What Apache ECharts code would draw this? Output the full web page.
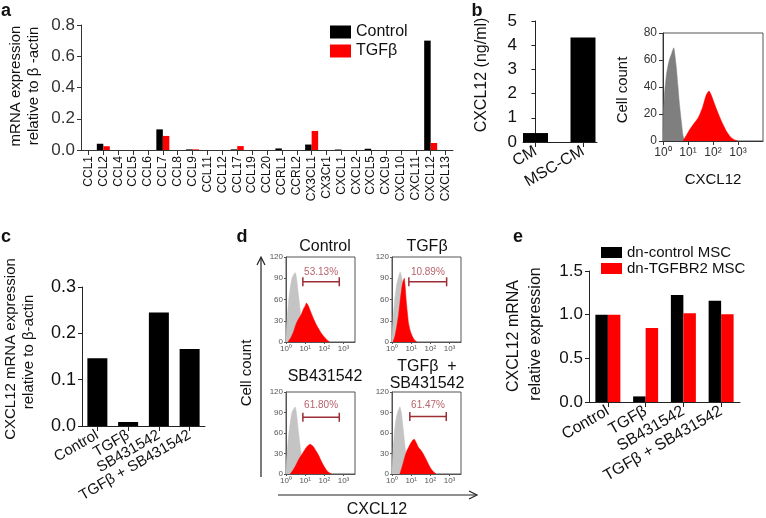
<!DOCTYPE html>
<html><head><meta charset="utf-8">
<script src="https://cdn.jsdelivr.net/npm/echarts@6/dist/echarts.min.js"></script>
<style>html,body{margin:0;padding:0;background:#fff}#c{width:766px;height:518px}</style>
</head><body><div id="c"></div>
<script>
// ---------- data ----------
const aCategories = ['CCL1','CCL2','CCL4','CCL5','CCL6','CCL7','CCL8','CCL9','CCL11','CCL12','CCL17','CCL19','CCL20','CCRL1','CCRL2','CX3CL1','CX3Cr1','CXCL1','CXCL2','CXCL5','CXCL9','CXCL10','CXCL11','CXCL12','CXCL13'];
const aControl = [0,0.04,0,0,0,0.132,0,0.004,0,0,0.004,0,0,0.01,0,0.035,0,0.003,0,0.008,0,0,0,0.70,0];
const aTGFb    = [0,0.024,0,0,0,0.09,0,0.004,0,0,0.025,0,0,0,0,0.122,0,0,0,0,0,0,0,0.045,0];
const bCategories = ['CM','MSC-CM'];
const bValues = [0.37, 4.32];
const bHistGray = [[0,0],[0.02,22],[0.06,35],[0.13,48],[0.2,56],[0.27,61],[0.35,65],[0.43,69],[0.48,63],[0.53,55],[0.6,40],[0.66,27],[0.73,15],[0.8,4],[0.86,0]];
const bHistRed  = [[0.8,0],[0.93,4],[1.05,8],[1.2,12],[1.4,17],[1.5,21],[1.6,26],[1.73,34],[1.84,37],[1.93,34],[2.03,29],[2.13,24],[2.33,15],[2.53,7.5],[2.7,3],[2.85,1],[3.0,0]];
const histTickLabels = ['10\u2070','10\u00B9','10\u00B2','10\u00B3'];
const cCategories = ['Control','TGF\u03B2','SB431542','TGF\u03B2 + SB431542'];
const cValues = [0.146, 0.0087, 0.245, 0.166];
const dTitles = ['Control','TGF\u03B2','SB431542','TGF\u03B2  +\nSB431542'];
const dGray1 = [[0,5],[0.05,30],[0.14,59],[0.22,76],[0.31,90],[0.4,95],[0.48,98],[0.56,88],[0.66,64],[0.78,36],[0.88,17],[1.0,5],[1.1,0]];
const dRed1  = [[0.1,0],[0.25,6],[0.4,15],[0.48,22],[0.6,30],[0.78,38],[0.9,46],[1.0,51],[1.07,55],[1.15,52],[1.33,40],[1.45,32],[1.59,24],[1.72,18],[1.85,12],[2.0,7],[2.1,4],[2.28,0]];
const dGray2 = [[0,5],[0.05,30],[0.15,62],[0.25,82],[0.35,93],[0.43,99],[0.5,92],[0.6,75],[0.7,50],[0.8,25],[0.9,8],[1.0,0]];
const dRed2  = [[0.05,0],[0.15,8],[0.25,22],[0.35,40],[0.43,59],[0.52,78],[0.57,85],[0.64,90],[0.69,78],[0.74,59],[0.8,42],[0.86,27],[0.95,16],[1.03,10],[1.12,5],[1.2,2],[1.3,0]];
const dGray3 = [[0,5],[0.05,28],[0.14,57],[0.22,75],[0.31,90],[0.4,95],[0.48,98],[0.56,86],[0.66,60],[0.78,32],[0.88,15],[1.0,5],[1.1,0]];
const dRed3  = [[0.22,0],[0.35,5],[0.5,12],[0.62,19],[0.74,25],[0.9,32],[1.09,40],[1.26,43.5],[1.43,40],[1.56,34],[1.69,28],[1.82,20],[1.95,13],[2.08,7],[2.2,3],[2.38,0]];
const dGray4 = [[0,5],[0.05,32],[0.13,62],[0.21,80],[0.3,91],[0.36,95],[0.41,98.5],[0.5,88],[0.6,62],[0.7,36],[0.8,16],[0.9,5],[1.0,0]];
const dRed4  = [[0.41,0],[0.5,8],[0.6,18],[0.68,26],[0.76,33],[0.9,41],[1.0,46],[1.1,50],[1.16,51],[1.26,46],[1.36,40],[1.5,35],[1.62,30],[1.75,23],[1.88,15.6],[2.0,9],[2.14,4],[2.3,0]];
const dGates = [[0.88,2.78,85],[0.88,2.85,85],[0.88,2.78,83],[0.93,2.83,84]];
const dPercents = ['53.13%','10.89%','61.80%','61.47%'];
const dPercentPos = [[1.83,98],[1.87,98],[1.83,100],[1.88,100]];
const eCategories = ['Control','TGF\u03B2','SB431542','TGF\u03B2 + SB431542'];
const eControl = [1.0, 0.064, 1.226, 1.158];
const eTGFBR2  = [1.0, 0.846, 1.017, 1.006];

// ---------- layout ----------
const FONT = 'Liberation Sans, Arial, sans-serif';
const BLACK = '#000';
const RED = '#ff0000';
const frame = {show:true, borderColor:'#555', borderWidth:1, backgroundColor:'transparent'};
const grids = [
  {left:81, top:25, width:372, height:125},
  {left:523, top:21, width:74, height:121},
  Object.assign({left:663, top:33, width:100, height:108}, frame),
  {left:82, top:287, width:123, height:139},
  Object.assign({left:286, top:257, width:69, height:85}, frame),
  Object.assign({left:392, top:257, width:69, height:85}, frame),
  Object.assign({left:286, top:392, width:69, height:82}, frame),
  Object.assign({left:392, top:392, width:69, height:82}, frame),
  {left:589, top:271, width:151, height:131}
];
const line = (c) => ({show:true, lineStyle:{color:c||'#222', width:1}});
const tick = (len,c) => ({show:true, inside:false, length:len, lineStyle:{color:c||'#222', width:1}});
function yVal(gi, max, interval, fs, dec, col) {
  return {type:'value', gridIndex:gi, min:0, max:max, interval:interval,
    axisLine:line(col), axisTick:tick(fs>10?4:2,col), splitLine:{show:false},
    axisLabel:{fontSize:fs, fontFamily:FONT, color:col||'#111', margin:fs>10?6:3,
      formatter:(v)=>dec>=0? v.toFixed(dec): String(v)}};
}
function xHist(gi, max, fs, col) {
  return {type:'value', gridIndex:gi, min:0, max:max, interval:1,
    axisLine:line(col), axisTick:tick(fs>10?4:2,col), splitLine:{show:false},
    axisLabel:{fontSize:fs, fontFamily:FONT, color:col||'#111', margin:fs>10?6:3, showMaxLabel:false,
      formatter:(v)=> histTickLabels[v] !== undefined ? histTickLabels[v] : ''}};
}
const xAxes = [
  {type:'category', gridIndex:0, data:aCategories, axisLine:line('#333'), axisTick:Object.assign(tick(5,'#333'),{alignWithLabel:true}),
    axisLabel:{rotate:90, fontSize:12, fontFamily:FONT, color:'#111', margin:6, interval:0}},
  {type:'value', gridIndex:1, min:-0.263, max:1.295, splitLine:{show:false}, axisLine:line(),
    axisTick:Object.assign(tick(5),{customValues:[0,1]}),
    axisLabel:{customValues:[0,1], rotate:30, fontSize:16, fontFamily:FONT, color:'#111', margin:8,
      formatter:(v)=>bCategories[Math.round(v)]}},
  xHist(2, 4, 12, '#333'),
  {type:'category', gridIndex:3, data:cCategories, axisLine:line(), axisTick:Object.assign(tick(5),{alignWithLabel:true}),
    axisLabel:{rotate:30, fontSize:15, fontFamily:FONT, color:'#111', margin:8, interval:0}},
  xHist(4, 3.6, 8, '#555'),
  xHist(5, 3.6, 8, '#555'),
  xHist(6, 3.6, 8, '#555'),
  xHist(7, 3.6, 8, '#555'),
  {type:'category', gridIndex:8, data:eCategories, axisLine:line(), axisTick:Object.assign(tick(5),{alignWithLabel:true}),
    axisLabel:{rotate:30, fontSize:16, fontFamily:FONT, color:'#111', margin:8, interval:0}}
];
const yAxes = [
  yVal(0, 0.8, 0.2, 17, 1, '#333'),
  yVal(1, 5, 1, 17, 0),
  yVal(2, 80, 20, 12, -1, '#333'),
  yVal(3, 0.3, 0.1, 18, 1),
  yVal(4, 120, 30, 8, -1, '#555'),
  yVal(5, 120, 30, 8, -1, '#555'),
  yVal(6, 120, 30, 8, -1, '#555'),
  yVal(7, 120, 30, 8, -1, '#555'),
  yVal(8, 1.5, 0.5, 17, 1)
];

const series = [
  {name:'Control', type:'bar', xAxisIndex:0, yAxisIndex:0, data:aControl, barWidth:6.5, barGap:'0%', itemStyle:{color:BLACK}},
  {name:'TGF\u03B2', type:'bar', xAxisIndex:0, yAxisIndex:0, data:aTGFb, barWidth:6.5, barGap:'0%', itemStyle:{color:RED}},
  {name:'b-bar', type:'bar', xAxisIndex:1, yAxisIndex:1, data:bValues.map((v,i)=>[i,v]), barWidth:25, itemStyle:{color:BLACK}},
  {name:'b-gray', type:'line', xAxisIndex:2, yAxisIndex:2, data:bHistGray, symbol:'none', smooth:0.2,
    lineStyle:{width:0.5, color:'#7f7f7f'}, areaStyle:{color:'#7f7f7f', opacity:1}, z:2},
  {name:'b-red', type:'line', xAxisIndex:2, yAxisIndex:2, data:bHistRed, symbol:'none', smooth:0.2,
    lineStyle:{width:0.5, color:RED}, areaStyle:{color:RED, opacity:1}, z:3},
  {name:'c-bar', type:'bar', xAxisIndex:3, yAxisIndex:3, data:cValues, barWidth:20, itemStyle:{color:BLACK}},
  {name:'dn-control MSC', type:'bar', xAxisIndex:8, yAxisIndex:8, data:eControl, barWidth:12.5, barGap:'0%', itemStyle:{color:BLACK}},
  {name:'dn-TGFBR2 MSC', type:'bar', xAxisIndex:8, yAxisIndex:8, data:eTGFBR2, barWidth:12.5, barGap:'0%', itemStyle:{color:RED}}
];
const dGrays = [dGray1,dGray2,dGray3,dGray4];
const dReds = [dRed1,dRed2,dRed3,dRed4];
for (let k=0;k<4;k++) {
  const ai = 4+k;
  series.push({name:'d-gray'+k, type:'line', xAxisIndex:ai, yAxisIndex:ai, data:dGrays[k], symbol:'none', smooth:0.2,
    lineStyle:{width:0.5, color:'#c4c4c4'}, areaStyle:{color:'#c4c4c4', opacity:1}, z:2});
  series.push({name:'d-red'+k, type:'line', xAxisIndex:ai, yAxisIndex:ai, data:dReds[k], symbol:'none', smooth:0.2,
    lineStyle:{width:0.5, color:RED}, areaStyle:{color:RED, opacity:1}, z:3});
  const g = dGates[k];
  series.push({name:'d-gate'+k, type:'line', xAxisIndex:ai, yAxisIndex:ai, data:[[g[0],g[2]],[g[1],g[2]]],
    symbol:'rect', symbolSize:[1.5,9], itemStyle:{color:'#9b2d35'}, lineStyle:{width:1.5, color:'#9b2d35'}, z:4});
  series.push({name:'d-pct'+k, type:'scatter', xAxisIndex:ai, yAxisIndex:ai, data:[dPercentPos[k]],
    symbolSize:1, itemStyle:{color:'rgba(0,0,0,0)'},
    label:{show:true, position:'inside', formatter:dPercents[k], fontSize:10, fontFamily:FONT, color:'#a23a44'}, z:5});
}

function txt(x,y,text,size,opts) {
  opts = opts||{};
  return {type:'text', x:x, y:y, rotation:opts.rot?Math.PI/2:0, z:10,
    style:{text:text, fontSize:size, fontFamily:FONT, fontWeight:opts.bold?'bold':'normal',
      fill:opts.fill||'#111', align:'center', verticalAlign:'middle', lineHeight:opts.lh||size+1}};
}
const graphics = [
  txt(6,11,'a',18,{bold:true}), txt(477,11,'b',18,{bold:true}),
  txt(6,237,'c',18,{bold:true}), txt(242,237,'d',18,{bold:true}), txt(518,237,'e',18,{bold:true}),
  txt(16,86,'mRNA expression',15,{rot:true}), txt(34,86,'relative to \u03B2 -actin',15,{rot:true}),
  txt(482,75,'CXCL12 (ng/ml)',16,{rot:true}),
  txt(623,90,'Cell count',15,{rot:true}), txt(713,180,'CXCL12',15),
  txt(11,349,'CXCL12 mRNA expression',15,{rot:true}), txt(29,352,'relative to \u03B2-actin',15,{rot:true}),
  txt(514,336,'CXCL12 mRNA',16,{rot:true}), txt(536,334,'relative expression',16,{rot:true}),
  txt(325,247,dTitles[0],16), txt(427,247,dTitles[1],16), txt(325,377,dTitles[2],16), txt(427,375,dTitles[3],16,{lh:17}),
  txt(247,373,'Cell count',15,{rot:true}), txt(377,510,'CXCL12',16),
  {type:'line', shape:{x1:261,y1:477,x2:261,y2:258}, style:{stroke:'#222', lineWidth:1.2}},
  {type:'polyline', shape:{points:[[257,265],[261,257],[265,265]]}, style:{stroke:'#222', lineWidth:1.2, fill:null}},
  {type:'line', shape:{x1:278,y1:495,x2:476,y2:495}, style:{stroke:'#222', lineWidth:1.2}},
  {type:'polyline', shape:{points:[[469,491],[477,495],[469,499]]}, style:{stroke:'#222', lineWidth:1.2, fill:null}}
];

const chart = echarts.init(document.getElementById('c'), null, {renderer:'canvas'});
chart.setOption({
  animation:false,
  backgroundColor:'#fff',
  textStyle:{fontFamily:FONT},
  grid:grids, xAxis:xAxes, yAxis:yAxes, series:series,
  legend:[
    {data:['Control','TGF\u03B2'], left:325, top:19, orient:'vertical', icon:'rect', itemWidth:21, itemHeight:13, itemGap:3,
      textStyle:{fontSize:16, fontFamily:FONT, color:'#111'}, selectedMode:false},
    {data:['dn-control MSC','dn-TGFBR2 MSC'], left:596, top:240, orient:'vertical', icon:'rect', itemWidth:21, itemHeight:11, itemGap:1,
      textStyle:{fontSize:15, fontFamily:FONT, color:'#111'}, selectedMode:false}
  ],
  graphic:graphics
});
</script></body></html>
